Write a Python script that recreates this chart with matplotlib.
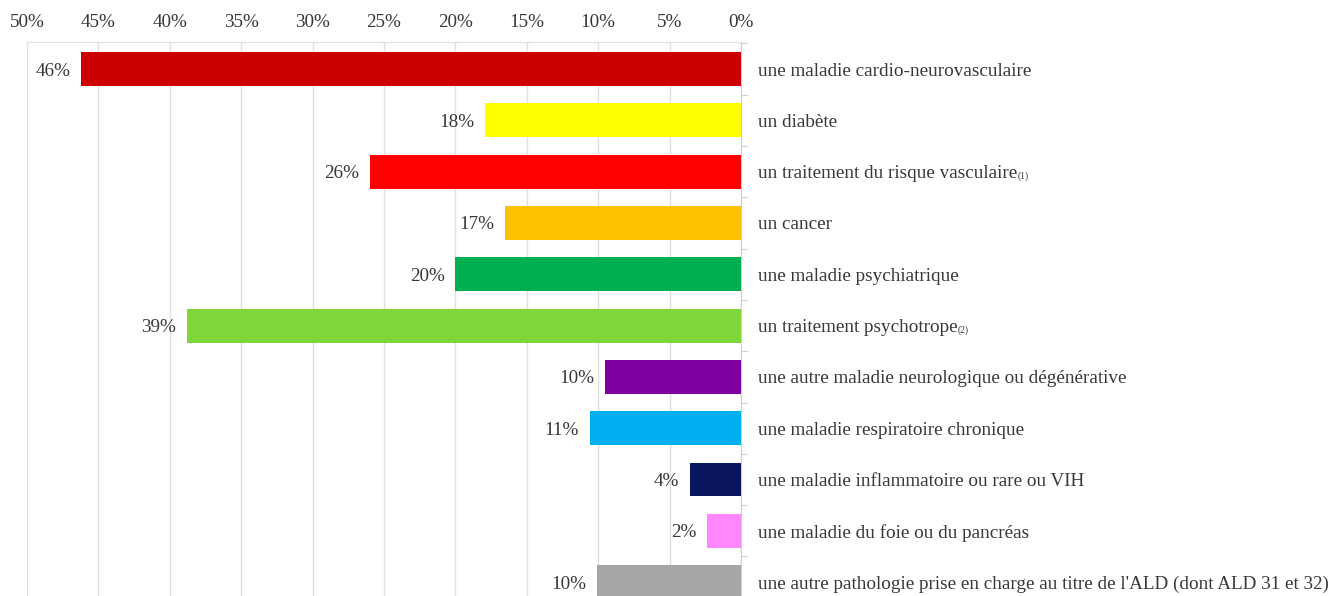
import numpy as np
import matplotlib.pyplot as plt

categories = ["une maladie cardio-neurovasculaire", "un diabète",
              "un traitement du risque vasculaire", "un cancer",
              "une maladie psychiatrique", "un traitement psychotrope",
              "une autre maladie neurologique ou dégénérative",
              "une maladie respiratoire chronique",
              "une maladie inflammatoire ou rare ou VIH",
              "une maladie du foie ou du pancréas",
              "une autre pathologie prise en charge au titre de l'ALD (dont ALD 31 et 32)"]
notes = ["", "", "(1)", "", "", "(2)", "", "", "", "", ""]
values = [46.2, 17.9, 26.0, 16.5, 20.0, 38.8, 9.5, 10.6, 3.6, 2.4, 10.1]
labels = ["46%", "18%", "26%", "17%", "20%", "39%", "10%", "11%", "4%", "2%", "10%"]
colors = ["#CC0000", "#FFFF00", "#FF0000", "#FFC000", "#00B050", "#7ED63A",
          "#7F00A0", "#00B0F0", "#0A1560", "#FF88FF", "#A6A6A6"]
ticks = [0, 5, 10, 15, 20, 25, 30, 35, 40, 45, 50]

plt.rcParams['font.family'] = ['Liberation Serif', 'DejaVu Serif']
txt_col = '#383838'

W, H = 1339, 596
fig = plt.figure(figsize=(W / 100, H / 100), dpi=100)
ax = fig.add_axes([27 / W, 0, (741 - 27) / W, (596 - 42) / H])

y = np.arange(len(categories))
ax.barh(y, values, height=0.66, color=colors, edgecolor='none', zorder=3)

ax.set_xticks(ticks)
ax.set_xticklabels([f"{t}%" for t in ticks], fontsize=13.8, color=txt_col)
ax.xaxis.tick_top()
ax.tick_params(axis='x', length=0, pad=8)
ax.grid(axis='x', color='#E0E0E0', lw=1, zorder=0)

ax.yaxis.tick_right()
ax.set_yticks(np.arange(len(categories)) - 0.5)
ax.set_yticklabels([])
ax.tick_params(axis='y', length=4, color='#D0D0D0', direction='out')

ax.set_xlim(50, 0)
ax.set_ylim(10.27, -0.526)

for s in ['left', 'bottom']:
    ax.spines[s].set_visible(False)
ax.spines['top'].set_color('#E0E0E0')
ax.spines['right'].set_color('#D0D0D0')

for i, (v, lab, cat, note) in enumerate(zip(values, labels, categories, notes)):
    ax.text(v + 0.75, i + 0.04, lab, ha='right', va='center', fontsize=13.8, color=txt_col)
    t = ax.text(-1.2, i + 0.04, cat, ha='left', va='center', fontsize=13.8, color=txt_col,
                clip_on=False)
    if note:
        ax.annotate(note, xy=(1, 0.05), xycoords=t, fontsize=7, color=txt_col,
                    ha='left', va='bottom')

fig.savefig("out.png", dpi=100)
